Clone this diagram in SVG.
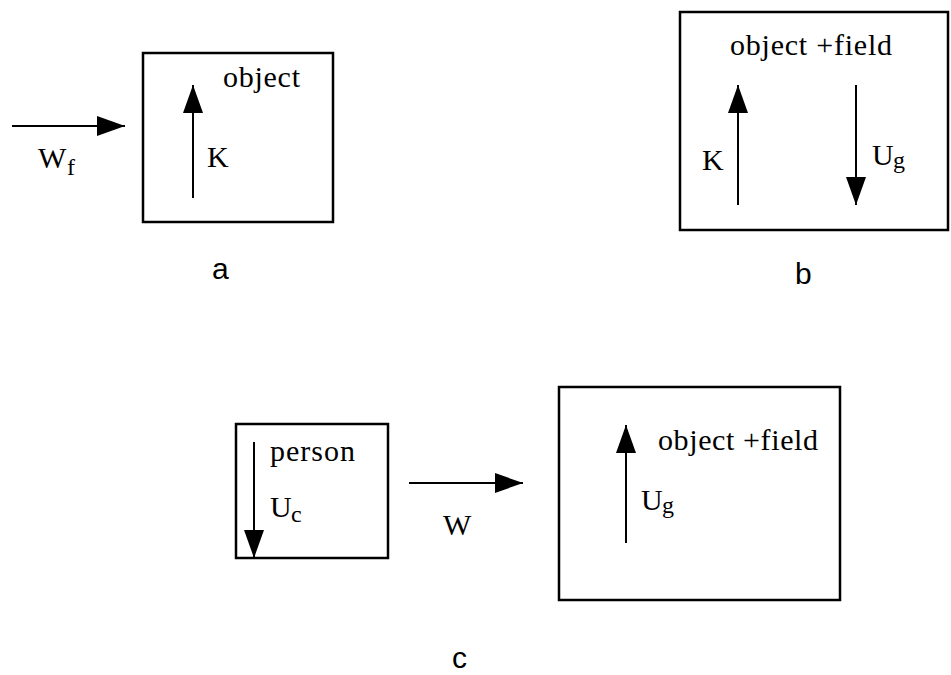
<svg xmlns="http://www.w3.org/2000/svg" width="951" height="675" viewBox="0 0 951 675">
<style>
.box{fill:none;stroke:#000;stroke-width:2.5}
.ln{fill:none;stroke:#000;stroke-width:2}
.t{font-family:"Liberation Serif","DejaVu Serif",serif;font-size:30px;fill:#000}
.s{font-family:"Liberation Serif","DejaVu Serif",serif;font-size:24px;fill:#000}
.lb{font-family:"Liberation Sans",Arial,sans-serif;font-size:30px;fill:#000}
</style>
<defs>
<marker id="ah" viewBox="0 0 28 20" refX="28" refY="10" markerWidth="28" markerHeight="20" markerUnits="userSpaceOnUse" orient="auto">
<path d="M0,0 L28,10 L0,20 z" fill="#000"/>
</marker>
</defs>
<rect width="951" height="675" fill="#fff"/>
<g id="node-a">
<rect class="box" x="143" y="53" width="190" height="169"/>
<text class="t" x="223" y="87" textLength="77" lengthAdjust="spacing">object</text>
<text class="t" x="207" y="167">K</text>
</g>
<g id="node-b">
<rect class="box" x="680" y="12" width="268" height="218"/>
<text class="t" x="730" y="55" textLength="162" lengthAdjust="spacing">object +field</text>
<text class="t" x="702" y="170">K</text>
<text class="t" x="872" y="165">U</text><text class="s" x="893" y="168">g</text>
</g>
<g id="node-person">
<rect class="box" x="236" y="424" width="152" height="134"/>
<text class="t" x="270" y="461" textLength="85" lengthAdjust="spacing">person</text>
<text class="t" x="270" y="517">U</text><text class="s" x="291" y="522">c</text>
</g>
<g id="node-c">
<rect class="box" x="559" y="387" width="281" height="213"/>
<text class="t" x="658" y="450" textLength="160" lengthAdjust="spacing">object +field</text>
<text class="t" x="641" y="510">U</text><text class="s" x="662" y="513">g</text>
</g>
<g id="labels">
<text class="t" x="38" y="168">W</text><text class="s" x="67" y="175">f</text>
<text class="t" x="443" y="535">W</text>
<text class="lb" x="212" y="279">a</text>
<text class="lb" x="795" y="284">b</text>
<text class="lb" x="452" y="668">c</text>
</g>
<g id="connectors">
<line class="ln" x1="12" y1="126" x2="125" y2="126" marker-end="url(#ah)"/>
<line class="ln" x1="193" y1="198" x2="193" y2="85" marker-end="url(#ah)"/>
<line class="ln" x1="738" y1="205" x2="738" y2="85" marker-end="url(#ah)"/>
<line class="ln" x1="856" y1="85" x2="856" y2="205" marker-end="url(#ah)"/>
<line class="ln" x1="254" y1="442" x2="254" y2="558" marker-end="url(#ah)"/>
<line class="ln" x1="409" y1="483" x2="523" y2="483" marker-end="url(#ah)"/>
<line class="ln" x1="626" y1="543" x2="626" y2="425" marker-end="url(#ah)"/>
</g>
</svg>
